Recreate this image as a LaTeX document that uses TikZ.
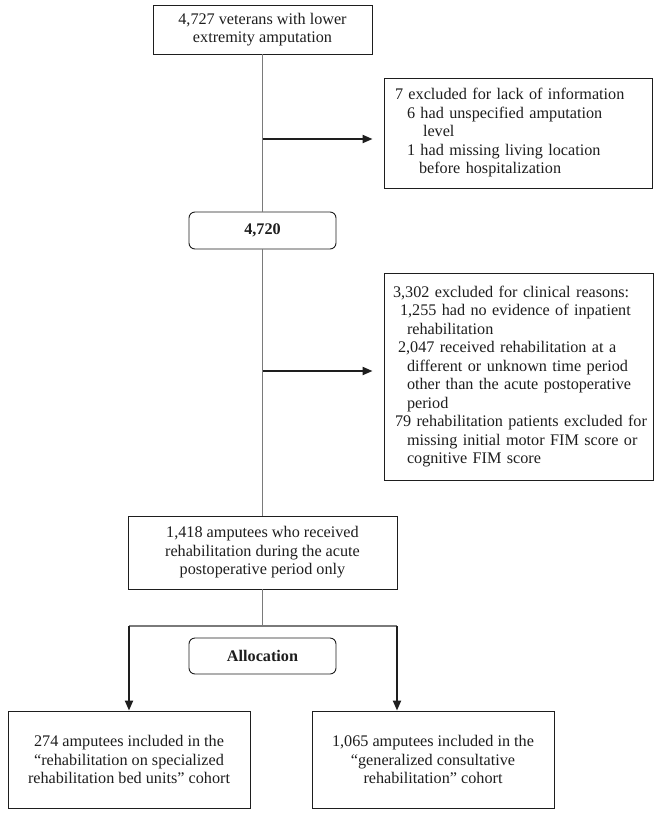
\documentclass[tikz,border=0pt]{standalone}
\usepackage{fontspec}
\setmainfont{Liberation Serif}
\usetikzlibrary{arrows.meta}
\definecolor{ink}{HTML}{1E1E1E}
\definecolor{conn}{HTML}{7A7A7A}
\begin{document}
\begin{tikzpicture}[x=1pt,y=-1pt,
  every node/.style={font=\fontsize{16.2}{18.5}\selectfont, text=ink},
  box/.style={draw=ink, line width=0.9pt, inner sep=0pt, align=center},
  rbox/.style={box, rounded corners=6pt},
  exbox/.style={box, align=left},
  link/.style={draw=conn, line width=1.1pt},
  arr/.style={draw=ink, line width=2pt, -{Triangle[length=10pt,width=8pt]}}]
\useasboundingbox[fill=white] (0,0) rectangle (660,815);

\node[box, minimum width=219pt, minimum height=49pt] (top) at (262.5,29.5)
  {4,727 veterans with lower\\extremity amputation};

\node[exbox, minimum width=268pt, minimum height=110pt, inner xsep=11pt, text width=246pt] (ex1) at (518,133)
  {7 excluded for lack of information\\
   \hspace*{12pt}6 had unspecified amputation\\
   \hspace*{28pt}level\\
   \hspace*{12pt}1 had missing living location\\
   \hspace*{24pt}before hospitalization};

\node[rbox, minimum width=147pt, minimum height=37pt] (n4720) at (262.5,230.5)
  {\bfseries 4,720};

\node[exbox, minimum width=269pt, minimum height=207pt, inner xsep=4pt, text width=261pt] (ex2) at (518.5,376.5)
  {\hspace*{5pt}3,302 excluded for clinical reasons:\\
   \hspace*{12pt}1,255 had no evidence of inpatient\\
   \hspace*{19pt}rehabilitation\\
   \hspace*{10pt}2,047 received rehabilitation at a\\
   \hspace*{19pt}different or unknown time period\\
   \hspace*{19pt}other than the acute postoperative\\
   \hspace*{19pt}period\\
   \hspace*{7pt}79 rehabilitation patients excluded for\\
   \hspace*{19pt}missing initial motor FIM score or\\
   \hspace*{19pt}cognitive FIM score};

\node[box, minimum width=269pt, minimum height=73pt] (n1418) at (262.5,552.5)
  {1,418 amputees who received\\rehabilitation during the acute\\postoperative period only};

\node[rbox, minimum width=147pt, minimum height=36pt] (alloc) at (262.5,656)
  {\bfseries Allocation};

\node[box, minimum width=242pt, minimum height=97pt] (left) at (129,759.5)
  {274 amputees included in the\\“rehabilitation on specialized\\rehabilitation bed units” cohort};

\node[box, minimum width=242pt, minimum height=97pt] (right) at (433,759.5)
  {1,065 amputees included in the\\“generalized consultative\\rehabilitation” cohort};

\coordinate (b1) at (262.5,139);
\coordinate (b2) at (262.5,371);
\coordinate (split) at (262.5,626);
\coordinate (sl) at (129,626);
\coordinate (sr) at (397,626);

\draw[link] (top.south) -- (n4720.north);
\draw[link] (n4720.south) -- (n1418.north);
\draw[link] (n1418.south) -- (split);
\draw[link] (sl) -- (sr);

\draw[arr, shorten >=11pt] (b1) -- (ex1.west |- b1);
\draw[arr, shorten >=11pt] (b2) -- (ex2.west |- b2);
\draw[arr] (sl) -- (left.north -| sl);
\draw[arr] (sr) -- (right.north -| sr);
\end{tikzpicture}
\end{document}
